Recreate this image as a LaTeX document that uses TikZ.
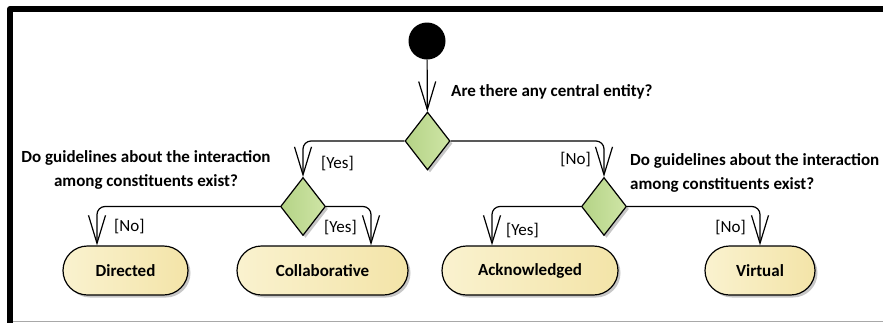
\documentclass[tikz,border=0pt]{standalone}
\usepackage{fontspec}
\setmainfont{Carlito}
\usetikzlibrary{arrows.meta,shapes.geometric,shapes.misc,shadows}

\definecolor{termL}{HTML}{FAF2CF}
\definecolor{termR}{HTML}{F3E4A8}
\definecolor{decL}{HTML}{B4D386}
\definecolor{decR}{HTML}{CFE5A6}
\definecolor{framegray}{HTML}{A8A8A8}

\begin{document}
\begin{tikzpicture}[x=1pt,y=-1pt,
  flow/.style={line width=1.2pt, rounded corners=8pt,
    -{Straight Barb[length=28pt,width=17pt,line width=1.2pt]}},
  softshadow/.style={drop shadow={shadow xshift=2.5pt, shadow yshift=-2.5pt,
    opacity=0.22, fill=black}},
  decision/.style={diamond, draw, line width=1.2pt, inner sep=0pt,
    minimum width=45pt, minimum height=58pt, left color=decL, right color=decR,
    softshadow},
  terminal/.style={rounded rectangle, draw, line width=1.2pt, minimum height=49pt,
    inner sep=0pt, left color=termL, right color=termR, softshadow,
    font=\fontsize{17}{20}\selectfont\bfseries},
  question/.style={font=\fontsize{17}{24}\selectfont\bfseries, inner sep=0pt},
  guard/.style={font=\fontsize{17}{20}\selectfont, inner sep=0pt}
]
\useasboundingbox (0,0) rectangle (883,322);

% frame of the activity area
\draw[line width=6pt, line join=round] (10,340) -- (10,9) -- (900,9);
\draw[framegray, line width=1pt] (13,321) -- (900,321);

% initial node
\node[circle, fill=black, minimum size=37pt, inner sep=0pt] (start) at (427,41) {};

% decisions
\node[decision] (d1) at (427.5,141) {};
\node[decision] (d2) at (303,206.5) {};
\node[decision] (d3) at (604,206.5) {};

% final kinds
\node[terminal, minimum width=125pt] (dir) at (125.5,270.5) {Directed};
\node[terminal, minimum width=171pt] (col) at (322.5,270.5) {Collaborative};
\node[terminal, minimum width=176pt] (ack) at (530,270.5) {Acknowledged};
\node[terminal, minimum width=110pt] (vir) at (760,270.5) {Virtual};

% flows
\draw[flow] (start) -- (d1);
\draw[flow] (d1.west) -| (d2.north);
\draw[flow] (d1.east) -| (d3.north);
\draw[flow] (d2.west) -| ([xshift=-28.5pt]dir.north);
\draw[flow] (d2.east) -| ([xshift=48.5pt]col.north);
\draw[flow] (d3.west) -| ([xshift=-38pt]ack.north);
\draw[flow] (d3.east) -| (vir.north);

% questions
\node[question, anchor=west] (q1) at (451,92) {Are there any central entity?};
\node[question, align=center] (q2) at (146,170) {Do guidelines about the interaction\\among constituents exist?};
\node[question, align=left, anchor=west] (q3) at (630,173) {Do guidelines about the interaction\\among constituents exist?};

% guards
\node[guard, anchor=west] (g1) at (321,164) {[Yes]};
\node[guard, anchor=east] (g2) at (591,160) {[No]};
\node[guard, anchor=west] (g3) at (114,227) {[No]};
\node[guard, anchor=east] (g4) at (357,228) {[Yes]};
\node[guard, anchor=west] (g5) at (506,231) {[Yes]};
\node[guard, anchor=east] (g6) at (746,228) {[No]};
\end{tikzpicture}
\end{document}
